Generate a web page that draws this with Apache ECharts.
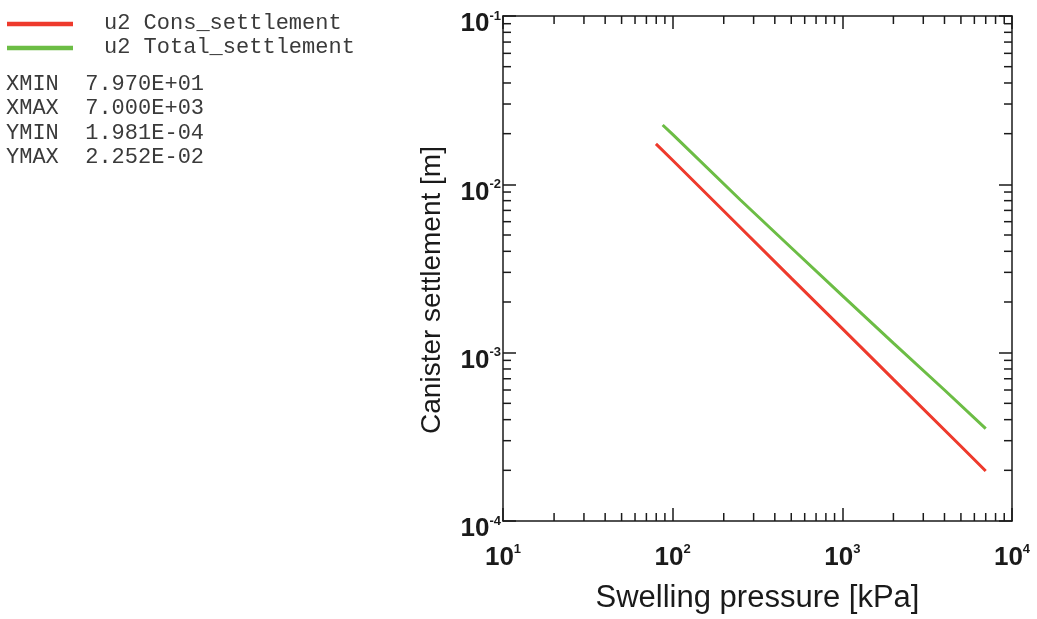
<!DOCTYPE html>
<html><head><meta charset="utf-8">
<script src="https://cdn.jsdelivr.net/npm/echarts@6/dist/echarts.min.js"></script>
<style>html,body{margin:0;padding:0;background:#fff}#c{width:1037px;height:619px}</style>
</head><body><div id="c"></div>
<script>
// Data
const consX = [79.7, 100, 200, 500, 1000, 2000, 5000, 7000];
const consY = [0.0174, 0.0139, 0.00694, 0.00277, 0.00139, 0.000694, 0.000278, 0.0001981];
const totalX = [87.3, 100, 250, 500, 1000, 2000, 4000, 7000];
const totalY = [0.02252, 0.0198, 0.0081, 0.0042, 0.00218, 0.00114, 0.0006, 0.000354];
const seriesNames = ['u2 Cons_settlement', 'u2 Total_settlement'];
const statLabels = ['XMIN  7.970E+01', 'XMAX  7.000E+03', 'YMIN  1.981E-04', 'YMAX  2.252E-02'];
const xMinorTicks = [20,30,40,50,60,70,80,90,200,300,400,500,600,700,800,900,2000,3000,4000,5000,6000,7000,8000,9000];
const yMinorTicks = [0.0002,0.0003,0.0004,0.0005,0.0006,0.0007,0.0008,0.0009,0.002,0.003,0.004,0.005,0.006,0.007,0.008,0.009,0.02,0.03,0.04,0.05,0.06,0.07,0.08,0.09];
const xTitle = 'Swelling pressure [kPa]';
const yTitle = 'Canister settlement [m]';

const RED = '#ee3a2c', GREEN = '#6cbd45', INK = '#1a1a1a';
const chart = echarts.init(document.getElementById('c'), null, {renderer: 'canvas'});
const pow = v => '{b|10}{s|' + Math.round(Math.log10(v)) + '}';
const rich = {
  b: {fontSize: 26, fontWeight: 'bold', fontFamily: 'Liberation Sans', color: INK},
  s: {fontSize: 13, fontWeight: 'bold', fontFamily: 'Liberation Sans', color: INK, padding: [0, 0, 16, 0]}
};
const frameLine = {show: true, lineStyle: {color: INK, width: 1.5}};
const majTick = {show: true, inside: true, length: 13, lineStyle: {color: INK, width: 1.5}};

function minorRender(isX) {
  return function (params, api) {
    const cs = params.coordSys;
    const v = api.value(0);
    const L = 8;
    const st = {stroke: INK, lineWidth: 1.5};
    if (isX) {
      const px = api.coord([v, 1e-3])[0];
      return {type: 'group', children: [
        {type: 'line', shape: {x1: px, y1: cs.y + cs.height, x2: px, y2: cs.y + cs.height - L}, style: st},
        {type: 'line', shape: {x1: px, y1: cs.y, x2: px, y2: cs.y + L}, style: st}
      ]};
    } else {
      const py = api.coord([100, v])[1];
      return {type: 'group', children: [
        {type: 'line', shape: {x1: cs.x, y1: py, x2: cs.x + L, y2: py}, style: st},
        {type: 'line', shape: {x1: cs.x + cs.width, y1: py, x2: cs.x + cs.width - L, y2: py}, style: st}
      ]};
    }
  };
}

const graphics = [];
[RED, GREEN].forEach((c, i) => {
  const y = 24 + i * 24;
  graphics.push({type: 'line', shape: {x1: 7, y1: y, x2: 73, y2: y}, style: {stroke: c, lineWidth: 4.5}});
  graphics.push({type: 'text', left: 104, top: y - 12, style: {text: seriesNames[i], font: '22px "Liberation Mono"', fill: '#3a3a3a'}});
});
statLabels.forEach((t, i) => {
  graphics.push({type: 'text', left: 6, top: 73 + i * 24.4, style: {text: t, font: '22px "Liberation Mono"', fill: '#3a3a3a'}});
});
graphics.push({type: 'text', x: 432, y: 290, rotation: Math.PI / 2,
  style: {text: yTitle, font: '28px "Liberation Sans"', fill: INK, align: 'center', verticalAlign: 'middle'}});

chart.setOption({
  animation: false,
  backgroundColor: '#fff',
  grid: {left: 503, top: 16, right: 25, bottom: 94, containLabel: false},
  xAxis: [
    {type: 'log', logBase: 10, min: 10, max: 10000, position: 'bottom',
     axisLine: frameLine, axisTick: majTick, splitLine: {show: false},
     axisLabel: {formatter: pow, rich: rich, margin: 22},
     name: xTitle, nameLocation: 'middle', nameGap: 62,
     nameTextStyle: {fontSize: 31, fontFamily: 'Liberation Sans', color: INK}},
    {type: 'log', logBase: 10, min: 10, max: 10000, position: 'top',
     axisLine: frameLine, axisTick: majTick, splitLine: {show: false}, axisLabel: {show: false}}
  ],
  yAxis: [
    {type: 'log', logBase: 10, min: 0.0001, max: 0.1, position: 'left',
     axisLine: frameLine, axisTick: majTick, splitLine: {show: false},
     axisLabel: {formatter: pow, rich: rich, margin: 2, padding: [16, 0, 0, 0]}},
    {type: 'log', logBase: 10, min: 0.0001, max: 0.1, position: 'right',
     axisLine: frameLine, axisTick: majTick, splitLine: {show: false}, axisLabel: {show: false}}
  ],
  graphic: graphics,
  series: [
    {name: seriesNames[0], type: 'line', data: consX.map((x, i) => [x, consY[i]]), showSymbol: false,
     lineStyle: {color: RED, width: 3}, itemStyle: {color: RED}},
    {name: seriesNames[1], type: 'line', data: totalX.map((x, i) => [x, totalY[i]]), showSymbol: false,
     lineStyle: {color: GREEN, width: 3}, itemStyle: {color: GREEN}},
    {type: 'custom', renderItem: minorRender(true), data: xMinorTicks.map(v => [v]), clip: false, silent: true},
    {type: 'custom', renderItem: minorRender(false), data: yMinorTicks.map(v => [v]), clip: false, silent: true}
  ]
});
</script></body></html>
